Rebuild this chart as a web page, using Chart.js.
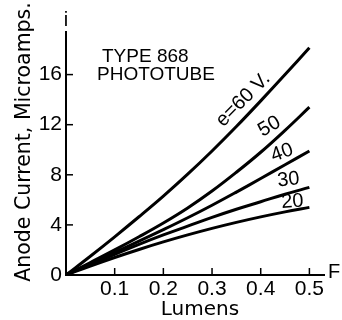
<!DOCTYPE html>
<html>
<head>
<meta charset="utf-8">
<script src="https://cdn.jsdelivr.net/npm/chart.js@4.4.1/dist/chart.umd.min.js"></script>
<style>
body { margin: 0; background: #fff; }
</style>
</head>
<body>
<canvas id="myChart" width="342" height="320"></canvas>
<script>
// lumens on x, anode current (microamps) on y
const lumens = [0, 0.05, 0.1, 0.15, 0.2, 0.25, 0.3, 0.35, 0.4, 0.45, 0.5]
const v60 = [0, 1.5, 3.05, 4.65, 6.3, 8.05, 9.9, 11.85, 13.9, 16.0, 18.15]
const v50 = [0, 1.0, 2.0, 3.05, 4.15, 5.35, 6.7, 8.2, 9.8, 11.55, 13.4]
const v40 = [0, 0.9, 1.8, 2.7, 3.62, 4.57, 5.57, 6.62, 7.7, 8.8, 9.9]
const v30 = [0, 0.85, 1.65, 2.45, 3.2, 3.9, 4.6, 5.25, 5.85, 6.45, 7.0]
const v20 = [0, 0.72, 1.4, 2.04, 2.64, 3.2, 3.72, 4.2, 4.64, 5.04, 5.4]
const curveNames = ['e=60 V.', '50', '40', '30', '20']

// where each curve name sits (data coords) and its tilt
const lineLabels = [
	{text: curveNames[0], x: 0.364, y: 14.0, angle: -45},
	{text: curveNames[1], x: 0.418, y: 11.85, angle: -30},
	{text: curveNames[2], x: 0.444, y: 9.75, angle: -20},
	{text: curveNames[3], x: 0.457, y: 7.6, angle: -6},
	{text: curveNames[4], x: 0.465, y: 5.85, angle: -4}
]

const FONT = '"Liberation Sans", Arial, sans-serif'
const NARROW = '"Liberation Sans Narrow", "Liberation Sans", sans-serif'
const WIDE = '"DejaVu Sans", sans-serif'

function toPoints(ys){
	return lumens.map((x, i) => ({x: x, y: ys[i]}))
}

const extras = {
	id: 'extras',
	afterDraw(chart){
		const ctx = chart.ctx
		const xs = chart.scales.x
		const ys = chart.scales.y
		const area = chart.chartArea
		ctx.save()
		ctx.strokeStyle = '#000'
		ctx.lineWidth = 1.5
		// inward tick marks
		xs.ticks.forEach(t => {
			if (t.value <= 0) return
			const px = xs.getPixelForValue(t.value)
			ctx.beginPath()
			ctx.moveTo(px, area.bottom)
			ctx.lineTo(px, area.bottom - 7)
			ctx.stroke()
		})
		ys.ticks.forEach(t => {
			if (t.value <= 0) return
			const py = ys.getPixelForValue(t.value)
			ctx.beginPath()
			ctx.moveTo(area.left, py)
			ctx.lineTo(area.left + 7, py)
			ctx.stroke()
		})

		ctx.fillStyle = '#000'
		// curve labels
		ctx.font = '20px ' + FONT
		ctx.textAlign = 'center'
		ctx.textBaseline = 'middle'
		lineLabels.forEach(l => {
			ctx.save()
			ctx.translate(xs.getPixelForValue(l.x), ys.getPixelForValue(l.y))
			ctx.rotate(l.angle * Math.PI / 180)
			ctx.fillText(l.text, 0, 0)
			ctx.restore()
		})

		// heading
		ctx.textAlign = 'left'
		ctx.font = '19px ' + FONT
		ctx.fillText('TYPE 868', 102, 57)
		ctx.fillText('PHOTOTUBE', 97, 75)

		// axis symbols
		ctx.font = '20px ' + FONT
		ctx.textAlign = 'center'
		ctx.fillText('i', area.left, 20)
		ctx.textAlign = 'left'
		ctx.fillText('F', area.right + 4, area.bottom - 3)

		// axis titles
		ctx.font = '20px ' + WIDE
		ctx.textAlign = 'center'
		ctx.textBaseline = 'alphabetic'
		ctx.fillText('Lumens', 200, 315)
		ctx.textBaseline = 'middle'
		ctx.font = '20.5px ' + WIDE
		ctx.save()
		ctx.translate(25, 142)
		ctx.rotate(-Math.PI / 2)
		ctx.fillText('Anode Current, Microamps.', 0, 0)
		ctx.restore()
		ctx.restore()
	}
}

const context = document.getElementById('myChart')
const series = [v60, v50, v40, v30, v20]
const config = {
	type: 'line',
	data: {
		datasets: series.map((s, i) => ({
			label: curveNames[i],
			data: toPoints(s),
			borderColor: '#000',
			borderWidth: 3,
			pointRadius: 0,
			tension: 0.4
		}))
	},
	options: {
		responsive: false,
		animation: false,
		layout: {padding: {top: 32, right: 18, left: 0, bottom: 0}},
		plugins: {legend: {display: false}, tooltip: {enabled: false}},
		scales: {
			x: {
				type: 'linear',
				min: 0,
				max: 0.53,
				afterFit: s => { s.height = 45 },
				border: {display: true, color: '#000', width: 2},
				grid: {display: false, drawTicks: false},
				ticks: {
					stepSize: 0.1,
					includeBounds: false,
					padding: 2,
					color: '#000',
					font: {family: NARROW, size: 21},
					callback: v => (v > 0.001 && v < 0.51) ? v.toFixed(1) : ''
				}
			},
			y: {
				min: 0,
				max: 19.4,
				afterFit: s => { s.width = 66 },
				border: {display: true, color: '#000', width: 2},
				grid: {display: false, drawTicks: false},
				ticks: {
					stepSize: 4,
					includeBounds: false,
					padding: 4,
					color: '#000',
					font: {family: NARROW, size: 21},
					callback: v => v
				}
			}
		}
	},
	plugins: [extras]
}
const myChart = new Chart(context, config)
</script>
</body>
</html>
